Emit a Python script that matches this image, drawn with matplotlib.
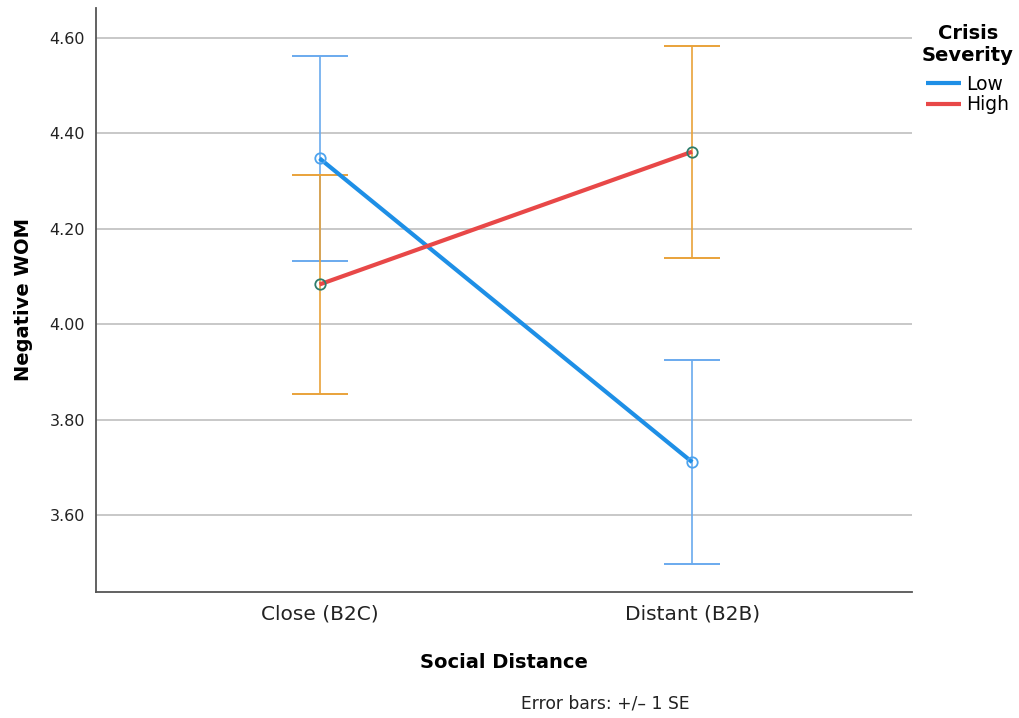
import matplotlib
matplotlib.use("Agg")
import matplotlib.pyplot as plt
import numpy as np

categories = ["Close (B2C)", "Distant (B2B)"]
series = ["Low", "High"]
low_means = [4.347, 3.711]
low_se = [0.215, 0.213]
high_means = [4.083, 4.361]
high_se = [0.229, 0.222]
yticks = [3.60, 3.80, 4.00, 4.20, 4.40, 4.60]

plt.rcParams['font.family'] = ['DejaVu Sans']

fig = plt.figure(figsize=(10.19, 7.18), dpi=100)
ax = fig.add_axes([0.0942, 0.1755, 0.8008, 0.8134])

x = np.arange(len(categories))

line_cols = {"Low": "#1E8FE6", "High": "#E84848"}
err_cols = {"Low": "#6AAAEE", "High": "#E9A23A"}
mk_cols = {"Low": "#4DA3EE", "High": "#2E7D6C"}
data = {"Low": (low_means, low_se), "High": (high_means, high_se)}

for s in series:
    m, e = data[s]
    ax.errorbar(x, m, yerr=e, fmt='none', ecolor=err_cols[s], elinewidth=1.2,
                capsize=20, capthick=1.4, zorder=3)
for s in series:
    m, e = data[s]
    ax.plot(x, m, color=line_cols[s], lw=3.0, zorder=4, label=s, solid_capstyle='butt')
for s in series:
    m, e = data[s]
    ax.plot(x, m, linestyle='none', marker='o', markersize=7.5, markerfacecolor='none',
            markeredgecolor=mk_cols[s], markeredgewidth=1.3, zorder=5)

ax.set_xlim(-0.6, 1.59)
ax.set_ylim(3.439, 4.662)
ax.set_yticks(yticks)
ax.set_yticklabels([f"{v:.2f}" for v in yticks], fontsize=11.5)
ax.set_xticks(x)
ax.set_xticklabels(categories, fontsize=14.5)
ax.tick_params(axis='both', length=0, colors='#222222')
ax.tick_params(axis='y', pad=8)
ax.tick_params(axis='x', pad=9)

ax.yaxis.grid(True, color='#C8C8C8', lw=1.4)
ax.set_axisbelow(True)
for sp in ['top', 'right']:
    ax.spines[sp].set_visible(False)
for sp in ['left', 'bottom']:
    ax.spines[sp].set_color('#555555')
    ax.spines[sp].set_linewidth(1.3)

ax.set_ylabel("Negative WOM", fontsize=14, fontweight='bold', labelpad=12)
ax.set_xlabel("Social Distance", fontsize=14, fontweight='bold', labelpad=21)

fig.text(0.594, 0.007, "Error bars: +/\u2013 1 SE", ha='center', va='bottom', fontsize=12.3, color='#222222')

leg = ax.legend(title="Crisis\nSeverity", loc='upper left', bbox_to_anchor=(0.901, 0.972),
                bbox_transform=fig.transFigure, frameon=False, fontsize=13.5,
                title_fontproperties={'weight': 'bold', 'size': 14},
                handlelength=1.85, handletextpad=0.3, labelspacing=0.1, borderpad=0.2,
                borderaxespad=0)
leg.get_title().set_multialignment('center')
leg._legend_box.align = "center"
leg._legend_box.sep = 7

fig.savefig("out.png", dpi=100)
